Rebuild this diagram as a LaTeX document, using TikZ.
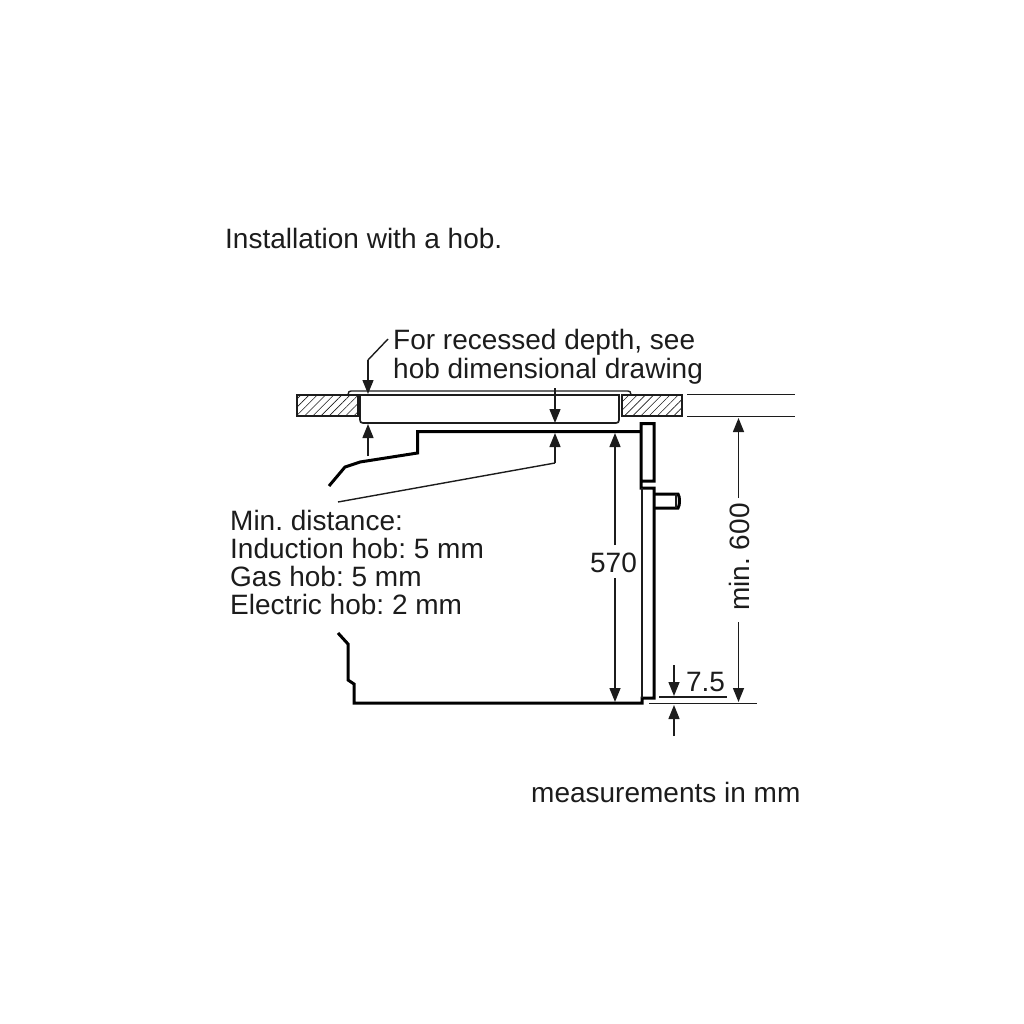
\documentclass[tikz,border=0pt]{standalone}
\usepackage{fontspec}
\setmainfont{Liberation Sans}
\usetikzlibrary{arrows.meta,patterns.meta}
\definecolor{inkgray}{HTML}{1C1C1C}
\frenchspacing
\tikzset{
    lbl/.style={inner sep=0pt,anchor=base west,text=inkgray,font=\fontsize{28}{30}\selectfont\frenchspacing},
    thickline/.style={draw=black,line width=3pt,line join=miter},
    midline/.style={draw=inkgray,line width=1.7pt},
    thinline/.style={draw=inkgray,line width=1.4pt},
    dim/.style={draw=inkgray,line width=1.4pt,-{Triangle[length=14pt,width=11pt]}},
    hatched/.style={draw=inkgray,line width=1.4pt,pattern={Lines[angle=45,distance=5.8pt,line width=.6pt]},pattern color=inkgray}
}
\begin{document}
\begin{tikzpicture}[x=1pt,y=-1pt]
    \useasboundingbox (0,0) rectangle (1024,1024);

    % texts
    \node[lbl] (title) at (225,248) {Installation with a hob.};
    \node[lbl] (recess1) at (393,349) {For recessed depth, see};
    \node[lbl] (recess2) at (393,378) {hob dimensional drawing};
    \node[lbl] (dist1) at (230,530) {Min. distance:};
    \node[lbl] (dist2) at (230,558) {Induction hob: 5 mm};
    \node[lbl] (dist3) at (230,586) {Gas hob: 5 mm};
    \node[lbl] (dist4) at (230,614) {Electric hob: 2 mm};
    \node[lbl] (units) at (531,802) {measurements in mm};
    \node[lbl,anchor=center] (h570) at (613.5,562.5) {570};
    \node[lbl,anchor=center,rotate=90] (h600) at (739,557) {min. 600};
    \node[lbl,anchor=center] (gap) at (705.5,681.5) {7.5};

    % worktop
    \draw[hatched] (297,395) rectangle (358,416);
    \draw[hatched] (622,395) rectangle (682,416);
    \draw[thinline] (687,394.5) -- (795,394.5);
    \draw[thinline] (687,416.5) -- (795,416.5);

    % hob
    \draw[thinline] (348,394.5) .. controls (348.5,392) and (349,391) .. (351,391) -- (628,391) .. controls (630,391) and (630.5,392) .. (631,394.5);
    \draw[midline,line width=2.4pt] (360,420) -- (360,395) -- (619,395) -- (619,420);
    \draw[midline] (360,420) .. controls (360,422) and (361,423) .. (363,423) -- (616,423) .. controls (618,423) and (619,422) .. (619,420);

    % oven
    \draw[thickline] (329,486) -- (345,467) -- (360,462) -- (417.5,453) -- (417.5,431.5) -- (641,431.5);
    \draw[thickline] (338,633) -- (348,644) -- (348,680) -- (354,684) -- (354,703) -- (642,703) -- (642,698) -- (654,698) -- (654,488) -- (641,488) -- (641,481) -- (654,481) -- (654,423.5) -- (641,423.5) -- (641,481);
    \draw[midline] (642,488) -- (642,698);
    \draw[thickline] (654,494) -- (678,494) .. controls (680,496) and (680,506) .. (678,508) -- (654,508);
    \draw[thinline] (676,494) -- (676,508);

    % leader lines
    \draw[thinline] (338,502) -- (555,463);
    \draw[thinline] (388,339) -- (368,360);

    % dimensions
    \draw[dim] (368,360) -- (368,394);
    \draw[dim] (368,456) -- (368,424);
    \draw[dim] (555,388) -- (555,423);
    \draw[dim] (555,463) -- (555,433);
    \draw[dim] (615,545) -- (615,433);
    \draw[dim] (615,578) -- (615,702);
    \draw[dim] (738.5,498) -- (738.5,418);
    \draw[dim] (738.5,622) -- (738.5,702);
    \draw[thinline] (659,697) -- (727,697);
    \draw[thinline] (649,703.7) -- (757,703.7);
    \draw[dim] (674,665) -- (674,696);
    \draw[dim] (674,736) -- (674,705);
\end{tikzpicture}
\end{document}
